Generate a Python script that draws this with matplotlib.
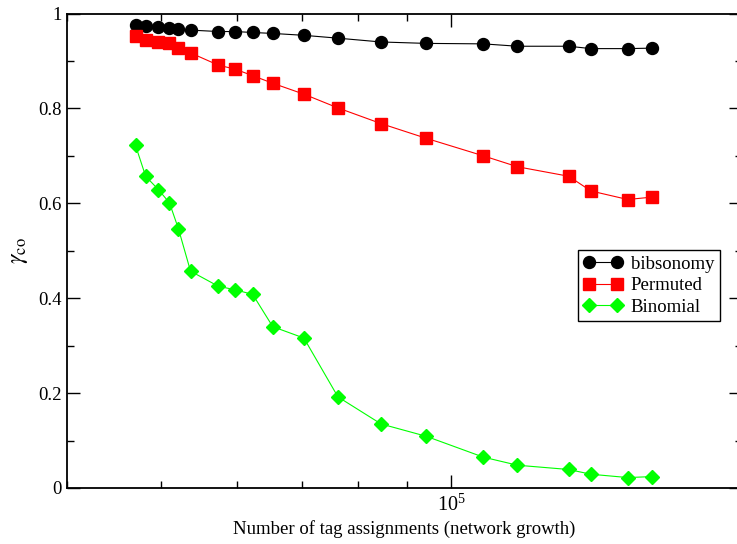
import numpy as np
import matplotlib
matplotlib.use("Agg")
import matplotlib.pyplot as plt
from matplotlib.ticker import MultipleLocator, LogLocator, NullFormatter, FixedLocator, FixedFormatter

plt.rcParams['font.family'] = ['Liberation Serif', 'DejaVu Serif']
plt.rcParams['mathtext.fontset'] = 'stix'

# tag assignments (x)
n_tags = [47100, 48250, 49730, 51070, 52180, 53700, 57400, 59670, 62280, 65330,
          70370, 76320, 84580, 94190, 107950, 117100, 132300, 139500, 152300, 161300]

bibsonomy = [0.976, 0.974, 0.971, 0.969, 0.967, 0.965, 0.962, 0.962, 0.960, 0.958,
             0.954, 0.948, 0.940, 0.937, 0.936, 0.931, 0.931, 0.926, 0.926, 0.927]
permuted = [0.952, 0.945, 0.940, 0.937, 0.928, 0.917, 0.891, 0.883, 0.869, 0.853,
            0.830, 0.801, 0.768, 0.737, 0.700, 0.677, 0.657, 0.626, 0.608, 0.613]
binomial = [0.722, 0.657, 0.629, 0.601, 0.546, 0.457, 0.425, 0.418, 0.408, 0.340,
            0.316, 0.192, 0.135, 0.109, 0.065, 0.048, 0.039, 0.029, 0.022, 0.024]

fig = plt.figure(figsize=(7.37, 5.44), dpi=100)
ax = fig.add_axes([67/737, 56/544, 675/737, 474.5/544])

ax.plot(n_tags, bibsonomy, color='black', lw=0.8, marker='o', ms=8.6,
        label='bibsonomy')
ax.plot(n_tags, permuted, color='#ff0000', lw=0.8, marker='s', ms=8,
        label='Permuted')
ax.plot(n_tags, binomial, color='#00ff00', lw=0.8, marker='D', ms=7,
        label='Binomial')

ax.set_xscale('log')
ax.set_xlim(4e4, 2e5)
ax.set_ylim(0, 1)
ax.xaxis.set_major_locator(FixedLocator([1e5]))
ax.xaxis.set_major_formatter(FixedFormatter([r'$\mathregular{10^{5}}$']))
ax.xaxis.set_minor_locator(LogLocator(base=10, subs=np.arange(2, 10)))
ax.xaxis.set_minor_formatter(NullFormatter())
ax.yaxis.set_minor_locator(MultipleLocator(0.1))
ax.set_yticks([0, 0.2, 0.4, 0.6, 0.8, 1.0])
ax.set_yticklabels(['0', '0.2', '0.4', '0.6', '0.8', '1'])

ax.tick_params(which='both', direction='in', top=True, right=True,
               labelsize=13.5, width=1)
ax.tick_params(which='major', length=9.5, pad=4)
ax.tick_params(which='minor', length=5)
ax.tick_params(axis='x', which='major', pad=5, labelsize=14.5)
for sp in ax.spines.values():
    sp.set_linewidth(1.3)

ax.set_xlabel('Number of tag assignments (network growth)', fontsize=13.5,
              labelpad=3)
ax.set_ylabel(r'$\gamma_{\rm co}$', fontsize=17, labelpad=6)

leg = ax.legend(loc='upper right', bbox_to_anchor=(0.967, 0.501),
                borderaxespad=0, fontsize=13.5, numpoints=2, handlelength=2.1,
                handletextpad=0.4, labelspacing=0.22, borderpad=0.3,
                fancybox=False, framealpha=1, edgecolor='black')
leg.get_frame().set_linewidth(1)

fig.savefig('out.png', dpi=100)
